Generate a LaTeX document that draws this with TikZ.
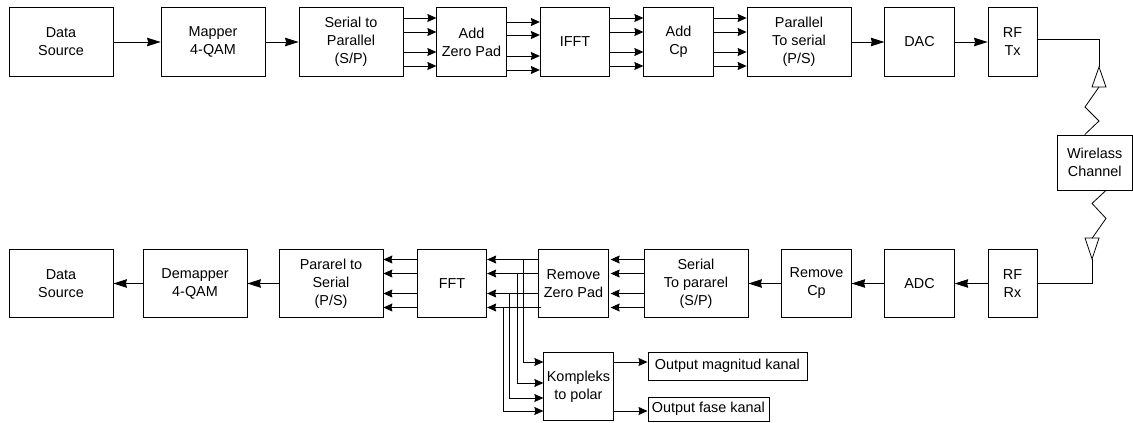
\documentclass[tikz,border=0pt]{standalone}
\usepackage{fontspec}
\setmainfont{Liberation Sans}
\usepackage{tikz}
\usetikzlibrary{arrows.meta,positioning,calc}
\tikzset{
  box/.style={draw, align=center, font=\fontsize{14.4}{18}\selectfont, line width=0.8pt, inner sep=0pt, minimum height=68.5pt},
  wide/.style={box, minimum width=104pt},
  mid/.style={box, minimum width=69.5pt},
  slim/.style={box, minimum width=49pt},
  outp/.style={box, minimum height=0pt, anchor=west},
  arr/.style={-{Stealth[length=9pt,width=8pt,inset=1pt]}, line width=0.8pt},
  bigarr/.style={-{Stealth[length=13.5pt,width=8.5pt,inset=1pt]}, line width=0.8pt},
  wire/.style={line width=0.8pt}}

\begin{document}
\begin{tikzpicture}[x=1pt, y=-1pt]
  \useasboundingbox (0,0) rectangle (1133,423);
  % transmit row
  \node[wide] (srcA) at (61,42) {Data\\Source};
  \node[wide] (map) at (213,42) {Mapper\\4-QAM};
  \node[wide] (sp) at (351,42) {Serial to\\Parallel\\(S/P)};
  \node[mid] (zpad) at (471.5,42) {Add\\Zero Pad};
  \node[mid] (ifft) at (575,42) {IFFT};
  \node[mid] (acp) at (678.5,42) {Add\\Cp};
  \node[wide] (ps) at (799,42) {Parallel\\To serial\\(P/S)};
  \node[mid] (dac) at (919.5,42) {DAC};
  \node[slim] (tx) at (1012.5,42) {RF\\Tx};
  % channel
  \node[box, minimum width=75.5pt, minimum height=55pt] (chan) at (1094.7,162.5) {Wirelass\\Channel};
  % receive row
  \node[slim] (rx) at (1012.5,283.5) {RF\\Rx};
  \node[mid] (adc) at (919.5,283.5) {ADC};
  \node[mid] (rcp) at (816.5,283.5) {Remove\\Cp};
  \node[wide] (stp) at (696,283.5) {Serial\\To pararel\\(S/P)};
  \node[mid] (rzp) at (573.5,283.5) {Remove\\Zero Pad};
  \node[mid] (fft) at (452,283.5) {FFT};
  \node[wide] (pts) at (331,283.5) {Pararel to\\Serial\\(P/S)};
  \node[wide] (dmap) at (195,283.5) {Demapper\\4-QAM};
  \node[wide] (srcB) at (61,283.5) {Data\\Source};
  % polar part
  \node[mid] (kp) at (578.5,386.5) {Kompleks\\to polar};
  \node[outp, minimum width=159pt, minimum height=28pt] (mag) at (647.5,366) {Output magnitud kanal};
  \node[outp, minimum width=121pt, minimum height=24pt] (fase) at (647.5,409) {Output fase kanal};
  % single lines
  \foreach \a/\b in {srcA/map, map/sp, ps/dac, dac/tx, rx/adc, adc/rcp, rcp/stp, pts/dmap, dmap/srcB}
    \draw[bigarr] (\a) -- (\b);
  % four lines
  \foreach \a/\b in {sp/zpad, ifft/acp, acp/ps}
    \foreach \d in {24,10,-10,-24}
      \draw[arr] ([yshift=\d pt]\a.east) -- ([yshift=\d pt]\b.west);
  \foreach \d in {20,7,-14,-28}
    \draw[arr] ([yshift=\d pt]zpad.east) -- ([yshift=\d pt]ifft.west);
  \foreach \d in {24,10,-10,-24}
    \draw[arr] ([yshift=\d pt]stp.west) -- ([xshift=2pt,yshift=\d pt]rzp.east);
  \foreach \d in {24,10,-10,-24}
    \draw[arr] ([yshift=\d pt]fft.west) -- ([yshift=\d pt]pts.east);
  \foreach \d in {24,10,-10}
    \draw[arr] ([yshift=\d pt]rzp.west) -- ([yshift=\d pt]fft.east);
  \draw[arr] ([xshift=3pt,yshift=-24pt]rzp.west) -- ([yshift=-24pt]fft.east);
  % branches to polar
  \coordinate (bA) at (523,259.5);
  \coordinate (bB) at (517,273.5);
  \coordinate (bC) at (509,293.5);
  \coordinate (bD) at (503,307.5);
  \draw[arr] (bA) |- ([yshift=24.5pt]kp.west);
  \draw[arr] (bB) |- ([yshift=3.5pt]kp.west);
  \draw[arr] (bC) |- ([yshift=-11.5pt]kp.west);
  \draw[arr] (bD) |- ([yshift=-24.5pt]kp.west);
  \draw[arr] (kp.east |- mag.west) ++(0,-4) -- ([yshift=4pt]mag.west);
  \draw[arr] (kp.east |- fase.west) ++(0,2) -- ([yshift=-2pt]fase.west);
  % antennas
  \coordinate (antT) at (1099,67);
  \coordinate (antR) at (1092,259);
  \draw[wire] ([yshift=3pt]tx.east) -| (antT);
  \draw[wire] (antT) -- ++(-7,20) -- ++(14,0) -- cycle;
  \draw[wire] (antT) ++(0,20) -- ++(-14,20) -- ++(14,14) -- ([xshift=-10pt]chan.north);
  \draw[wire] (rx.east) -| (antR);
  \draw[wire] (antR) -- ++(-7,-21) -- ++(14,0) -- cycle;
  \draw[wire] ([xshift=11.3pt]chan.south) -- ++(-14,13) -- ++(14,15) -- ++(-14,20);
\end{tikzpicture}
\end{document}
